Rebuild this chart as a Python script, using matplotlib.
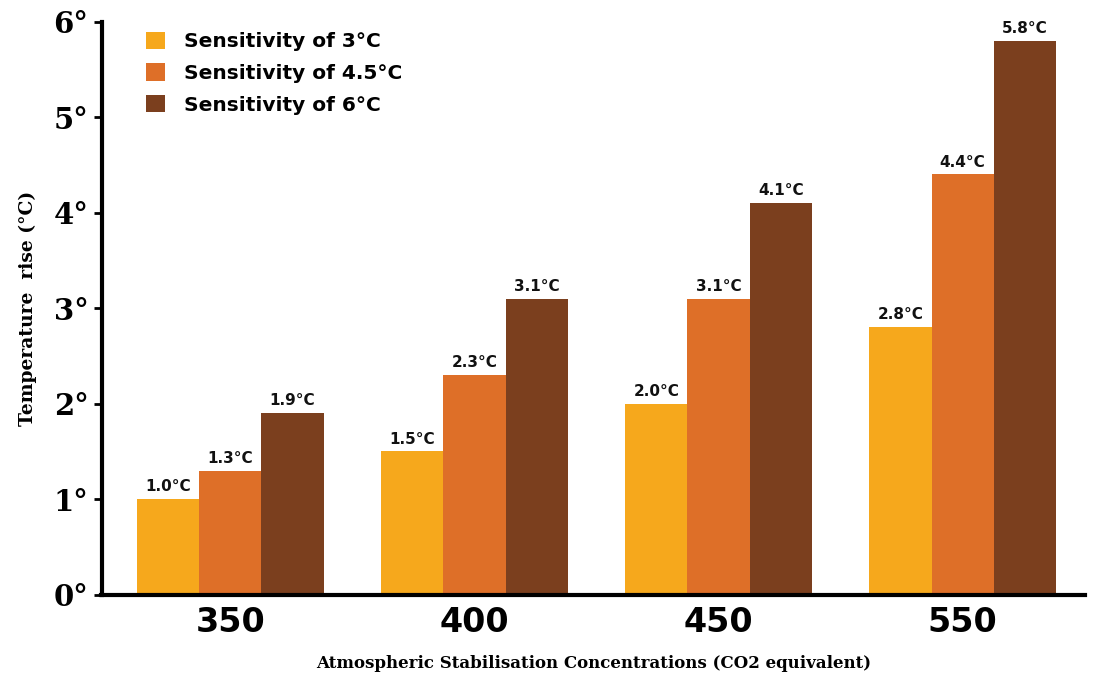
import matplotlib
matplotlib.use("Agg")
import matplotlib.pyplot as plt
import numpy as np

categories = ["350", "400", "450", "550"]
series_names = ["Sensitivity of 3°C", "Sensitivity of 4.5°C", "Sensitivity of 6°C"]
sens_3 = [1.0, 1.5, 2.0, 2.8]
sens_45 = [1.3, 2.3, 3.1, 4.4]
sens_6 = [1.9, 3.1, 4.1, 5.8]
colors = ["#F6A81C", "#DE6F28", "#7B3F1E"]
y_ticks = [0, 1, 2, 3, 4, 5, 6]
y_tick_labels = ["0°", "1°", "2°", "3°", "4°", "5°", "6°"]

fig = plt.figure(figsize=(10.99, 6.75), dpi=100)
ax = fig.add_axes([0.093, 0.119, 0.894, 0.849])

x = np.arange(len(categories))
w = 0.255
for i, (vals, name, c) in enumerate(zip([sens_3, sens_45, sens_6], series_names, colors)):
    pos = x + (i - 1) * w
    ax.bar(pos, vals, width=w, color=c, label=name, linewidth=0)
    for p, v in zip(pos, vals):
        ax.text(p, v + 0.05, f"{v:.1f}°C", ha="center", va="bottom",
                fontsize=11, fontweight="bold", family="DejaVu Sans", color="#111111")

ax.set_xlim(-0.525, 3.5)
ax.set_ylim(0, 6)
ax.set_xticks(x)
ax.set_xticklabels(categories, fontsize=24, fontweight="bold", family="DejaVu Sans")
ax.set_yticks(y_ticks)
ax.set_yticklabels(y_tick_labels, fontsize=21, fontweight="bold", family="DejaVu Serif")
ax.tick_params(axis="x", length=0, pad=8)
ax.tick_params(axis="y", length=6, width=2, direction="out", pad=4)
for s in ["top", "right"]:
    ax.spines[s].set_visible(False)
ax.spines["left"].set_linewidth(3)
ax.spines["bottom"].set_linewidth(3)
ax.spines["bottom"].set_bounds(-0.53, 3.5)

ax.set_ylabel("Temperature  rise (°C)", fontsize=13.5, fontweight="bold", family="DejaVu Serif", labelpad=12)
ax.set_xlabel("Atmospheric Stabilisation Concentrations (CO2 equivalent)", fontsize=12,
              fontweight="bold", family="DejaVu Serif", labelpad=12)

leg = ax.legend(loc="upper left", bbox_to_anchor=(0.026, 1.014), frameon=False,
                prop={"family": "DejaVu Sans", "weight": "bold", "size": 14.5},
                handlelength=0.95, handleheight=0.95, handletextpad=0.95, labelspacing=0.6)

fig.savefig("out.png", dpi=100)
